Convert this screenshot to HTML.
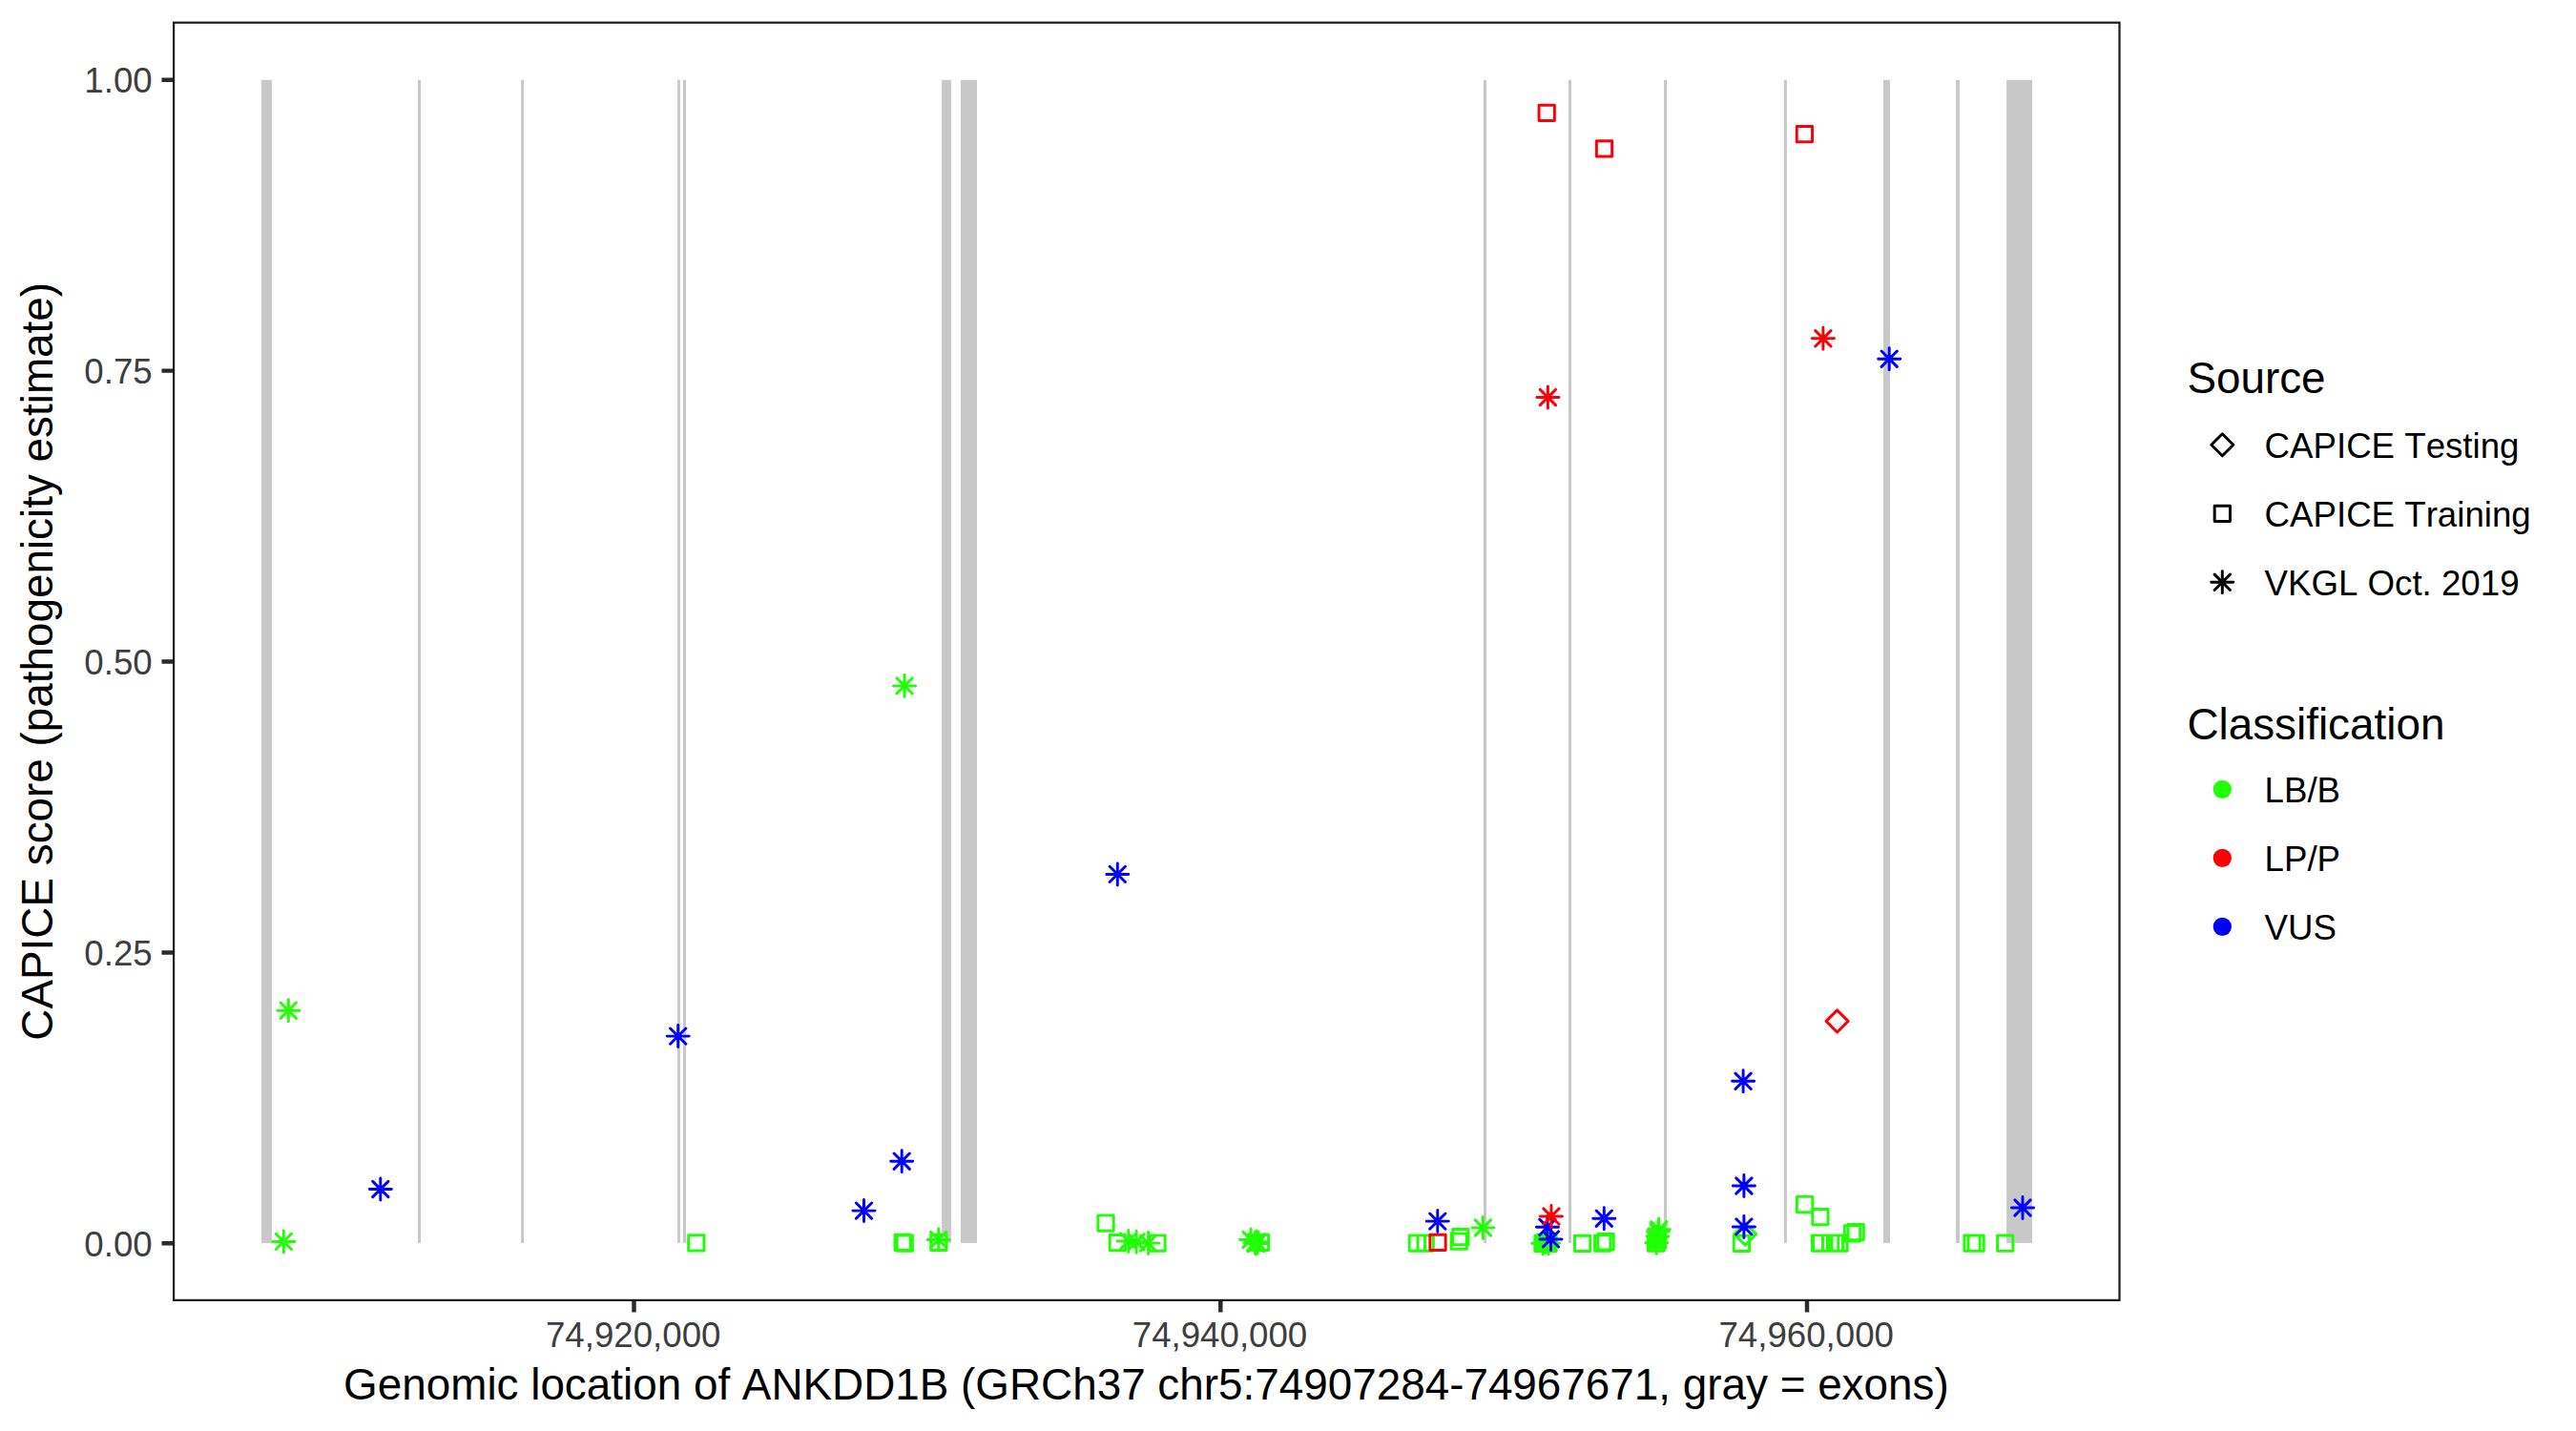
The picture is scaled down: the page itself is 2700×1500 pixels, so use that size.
<!DOCTYPE html>
<html lang="en"><head><meta charset="utf-8"><title>CAPICE score ANKDD1B</title>
<style>html,body{margin:0;padding:0;background:#fff}svg{display:block}text{font-family:"Liberation Sans",Arial,Helvetica,sans-serif;font-kerning:none;font-variant-ligatures:none}</style>
</head><body>
<svg width="2700" height="1500" viewBox="0 0 2700 1500">
<rect width="2700" height="1500" fill="#fff"/>
<g fill="#c8c8c8">
<rect x="274" y="83.8" width="10.9" height="1219.1"/>
<rect x="438" y="83.8" width="3" height="1219.1"/>
<rect x="546.1" y="83.8" width="3" height="1219.1"/>
<rect x="710.1" y="83.8" width="2.8" height="1219.1"/>
<rect x="716" y="83.8" width="3" height="1219.1"/>
<rect x="987.1" y="83.8" width="9.8" height="1219.1"/>
<rect x="1007" y="83.8" width="17" height="1219.1"/>
<rect x="1555" y="83.8" width="3" height="1219.1"/>
<rect x="1644" y="83.8" width="3" height="1219.1"/>
<rect x="1744" y="83.8" width="3.1" height="1219.1"/>
<rect x="1869.9" y="83.8" width="3" height="1219.1"/>
<rect x="1974" y="83.8" width="7" height="1219.1"/>
<rect x="2050.1" y="83.8" width="3.8" height="1219.1"/>
<rect x="2103.1" y="83.8" width="26.9" height="1219.1"/>
</g>
<path d="M294.16 1051.06L310.44 1067.35M294.16 1067.35L310.44 1051.06M290.78 1059.2H313.82M302.3 1047.68V1070.72M289.16 1293.26L305.44 1309.55M289.16 1309.55L305.44 1293.26M285.78 1301.4H308.82M297.3 1289.88V1312.92M721.65 1294.76h16.29v16.29h-16.29zM939.96 710.75L956.25 727.04M939.96 727.04L956.25 710.75M936.58 718.9H959.62M948.1 707.38V730.42M938.06 1294.15h16.29v16.29h-16.29zM940.15 1294.95h16.29v16.29h-16.29zM975.75 1294.15h16.29v16.29h-16.29zM975.56 1291.36L991.85 1307.64M975.56 1307.64L991.85 1291.36M972.18 1299.5H995.22M983.7 1287.98V1311.02M1150.86 1273.86h16.29v16.29h-16.29zM1163.15 1294.45h16.29v16.29h-16.29zM1204.86 1294.86h16.29v16.29h-16.29zM1174.65 1292.76L1190.94 1309.05M1174.65 1309.05L1190.94 1292.76M1171.28 1300.9H1194.32M1182.8 1289.38V1312.42M1182.95 1293.65L1199.24 1309.94M1182.95 1309.94L1199.24 1293.65M1179.58 1301.8H1202.62M1191.1 1290.28V1313.32M1195.45 1294.95L1211.74 1311.24M1195.45 1311.24L1211.74 1294.95M1192.08 1303.1H1215.12M1203.6 1291.58V1314.62M1313.26 1294.26h16.29v16.29h-16.29zM1302.95 1291.36L1319.24 1307.64M1302.95 1307.64L1319.24 1291.36M1299.58 1299.5H1322.62M1311.1 1287.98V1311.02M1307.45 1294.56L1323.74 1310.85M1307.45 1310.85L1323.74 1294.56M1304.08 1302.7H1327.12M1315.6 1291.18V1314.22M1308.65 1294.76L1324.94 1311.05M1308.65 1311.05L1324.94 1294.76M1305.28 1302.9H1328.32M1316.8 1291.38V1314.42M1309.86 1294.65L1326.14 1310.94M1309.86 1310.94L1326.14 1294.65M1306.48 1302.8H1329.52M1318 1291.28V1314.32M1309.15 1293.45L1325.44 1309.74M1309.15 1309.74L1325.44 1293.45M1305.78 1301.6H1328.82M1317.3 1290.08V1313.12M1308.15 1295.45L1324.44 1311.74M1308.15 1311.74L1324.44 1295.45M1304.78 1303.6H1327.82M1316.3 1292.08V1315.12M1477.15 1294.95h16.29v16.29h-16.29zM1486.06 1294.95h16.29v16.29h-16.29zM1521.06 1293.06h16.29v16.29h-16.29zM1522.76 1288.45h16.29v16.29h-16.29zM1546.26 1278.86L1562.55 1295.14M1546.26 1295.14L1562.55 1278.86M1542.88 1287H1565.92M1554.4 1275.48V1298.52M1608.86 1295.15h16.29v16.29h-16.29zM1614.86 1295.15h16.29v16.29h-16.29zM1611.36 1295.15h16.29v16.29h-16.29zM1612.86 1294.36h16.29v16.29h-16.29zM1609.06 1295.06L1625.35 1311.35M1609.06 1311.35L1625.35 1295.06M1605.68 1303.2H1628.72M1617.2 1291.68V1314.72M1614.95 1295.06L1631.24 1311.35M1614.95 1311.35L1631.24 1295.06M1611.58 1303.2H1634.62M1623.1 1291.68V1314.72M1611.86 1293.86L1628.14 1310.14M1611.86 1310.14L1628.14 1293.86M1608.48 1302H1631.52M1620 1290.48V1313.52M1650.45 1295.26h16.29v16.29h-16.29zM1671.56 1294.86h16.29v16.29h-16.29zM1674.95 1293.56h16.29v16.29h-16.29zM1727.36 1295.06h16.29v16.29h-16.29zM1728.36 1288.26h16.29v16.29h-16.29zM1729.36 1291.86h16.29v16.29h-16.29zM1730.65 1280.56L1746.94 1296.85M1730.65 1296.85L1746.94 1280.56M1727.28 1288.7H1750.32M1738.8 1277.18V1300.22M1728.15 1294.56L1744.44 1310.85M1728.15 1310.85L1744.44 1294.56M1724.78 1302.7H1747.82M1736.3 1291.18V1314.22M1729.36 1287.86L1745.64 1304.14M1729.36 1304.14L1745.64 1287.86M1725.98 1296H1749.02M1737.5 1284.48V1307.52M1729.86 1282.86L1746.14 1299.14M1729.86 1299.14L1746.14 1282.86M1726.48 1291H1749.52M1738 1279.48V1302.52M1817.26 1295.26h16.29v16.29h-16.29zM1817.68 1293.6L1829.2 1282.08L1840.72 1293.6L1829.2 1305.12zM1883.45 1254.36h16.29v16.29h-16.29zM1899.76 1267.45h16.29v16.29h-16.29zM1899.31 1294.86h16.29v16.29h-16.29zM1900.51 1294.86h16.29v16.29h-16.29zM1910.51 1294.86h16.29v16.29h-16.29zM1915.36 1294.86h16.29v16.29h-16.29zM1919.9 1294.86h16.29v16.29h-16.29zM1933.36 1284.65h16.29v16.29h-16.29zM1937.06 1283.45h16.29v16.29h-16.29zM2058.86 1295.06h16.29v16.29h-16.29zM2062.95 1295.06h16.29v16.29h-16.29zM2093.55 1295.06h16.29v16.29h-16.29z" fill="none" stroke="#21ff06" stroke-width="2.95" stroke-linecap="round" stroke-linejoin="round"/>
<path d="M390.66 1238.36L406.94 1254.64M390.66 1254.64L406.94 1238.36M387.28 1246.5H410.32M398.8 1234.98V1258.02M702.56 1077.95L718.85 1094.24M702.56 1094.24L718.85 1077.95M699.18 1086.1H722.22M710.7 1074.58V1097.62M937.06 1209.06L953.35 1225.35M937.06 1225.35L953.35 1209.06M933.68 1217.2H956.72M945.2 1205.68V1228.72M897.36 1260.95L913.64 1277.24M897.36 1277.24L913.64 1260.95M893.98 1269.1H917.02M905.5 1257.58V1280.62M1163.15 908.25L1179.44 924.54M1163.15 924.54L1179.44 908.25M1159.78 916.4H1182.82M1171.3 904.88V927.92M1498.65 1271.95L1514.94 1288.24M1498.65 1288.24L1514.94 1271.95M1495.28 1280.1H1518.32M1506.8 1268.58V1291.62M1613.76 1278.15L1630.05 1294.44M1613.76 1294.44L1630.05 1278.15M1610.38 1286.3H1633.42M1621.9 1274.78V1297.82M1617.36 1290.76L1633.64 1307.05M1617.36 1307.05L1633.64 1290.76M1613.98 1298.9H1637.02M1625.5 1287.38V1310.42M1673.15 1269.06L1689.44 1285.35M1673.15 1285.35L1689.44 1269.06M1669.78 1277.2H1692.82M1681.3 1265.68V1288.72M1818.95 1125.15L1835.24 1141.44M1818.95 1141.44L1835.24 1125.15M1815.58 1133.3H1838.62M1827.1 1121.78V1144.82M1819.76 1234.86L1836.05 1251.14M1819.76 1251.14L1836.05 1234.86M1816.38 1243H1839.42M1827.9 1231.48V1254.52M1819.76 1277.76L1836.05 1294.05M1819.76 1294.05L1836.05 1277.76M1816.38 1285.9H1839.42M1827.9 1274.38V1297.42M1972.06 368.06L1988.35 384.34M1972.06 384.34L1988.35 368.06M1968.68 376.2H1991.72M1980.2 364.68V387.72M2111.86 1257.86L2128.14 1274.14M2111.86 1274.14L2128.14 1257.86M2108.48 1266H2131.52M2120 1254.48V1277.52" fill="none" stroke="#0000ff" stroke-width="2.95" stroke-linecap="round" stroke-linejoin="round"/>
<path d="M1613.06 110.2h16.29v16.29h-16.29zM1673.36 147.75h16.29v16.29h-16.29zM1883.26 132.45h16.29v16.29h-16.29zM1614.26 408.36L1630.55 424.64M1614.26 424.64L1630.55 408.36M1610.88 416.5H1633.92M1622.4 404.98V428.02M1902.76 346.66L1919.05 362.94M1902.76 362.94L1919.05 346.66M1899.38 354.8H1922.42M1910.9 343.28V366.32M1914.08 1070.4L1925.6 1058.88L1937.12 1070.4L1925.6 1081.92zM1498.86 1294.15h16.29v16.29h-16.29zM1617.81 1266.9L1634.1 1283.19M1617.81 1283.19L1634.1 1266.9M1614.43 1275.05H1637.47M1625.95 1263.53V1286.57" fill="none" stroke="#fb0007" stroke-width="2.95" stroke-linecap="round" stroke-linejoin="round"/>
<rect x="182.1" y="23.7" width="2039.4" height="1339.2" fill="none" stroke="#1a1a1a" stroke-width="2.2"/>
<path d="M169.5 1303.3H181M169.5 998.4H181M169.5 693.5H181M169.5 388.6H181M169.5 83.7H181M664.5 1364V1375.6M1279.3 1364V1375.6M1894 1364V1375.6" stroke="#2a2a2a" stroke-width="4.45" fill="none"/>
<g font-size="36.67" fill="#3e3e3e">
<text x="159.7" y="1316.7" text-anchor="end">0.00</text>
<text x="159.7" y="1011.8" text-anchor="end">0.25</text>
<text x="159.7" y="706.9" text-anchor="end">0.50</text>
<text x="159.7" y="402" text-anchor="end">0.75</text>
<text x="159.7" y="97.1" text-anchor="end">1.00</text>
<text x="663.7" y="1411.8" text-anchor="middle">74,920,000</text>
<text x="1278.5" y="1411.8" text-anchor="middle">74,940,000</text>
<text x="1893.2" y="1411.8" text-anchor="middle">74,960,000</text>
</g>
<g font-size="45.83" fill="#000">
<text x="1201.4" y="1467" text-anchor="middle">Genomic location of ANKDD1B (GRCh37 chr5:74907284-74967671, gray = exons)</text>
<text transform="translate(54.9 693.3) rotate(-90)" text-anchor="middle">CAPICE score (pathogenicity estimate)</text>
<text x="2292.4" y="412.4">Source</text>
<text x="2292.4" y="774.6">Classification</text>
</g>
<path d="M2317.78 466.3L2329.3 454.78L2340.82 466.3L2329.3 477.82zM2321.16 530.15h16.29v16.29h-16.29zM2321.16 602.15L2337.45 618.44M2321.16 618.44L2337.45 602.15M2317.78 610.3H2340.82M2329.3 598.78V621.82" fill="none" stroke="#000" stroke-width="2.95" stroke-linecap="round" stroke-linejoin="round"/>
<g font-size="36.67" fill="#000">
<text x="2373.6" y="480.3">CAPICE Testing</text>
<text x="2373.6" y="552">CAPICE Training</text>
<text x="2373.6" y="623.8">VKGL Oct. 2019</text>
<text x="2373.6" y="841">LB/B</text>
<text x="2373.6" y="913">LP/P</text>
<text x="2373.6" y="984.8">VUS</text>
</g>
<circle cx="2329.3" cy="827.4" r="9.62" fill="#21ff06"/>
<circle cx="2329.3" cy="899.4" r="9.62" fill="#fb0007"/>
<circle cx="2329.3" cy="971.4" r="9.62" fill="#0000ff"/>
</svg></body></html>
